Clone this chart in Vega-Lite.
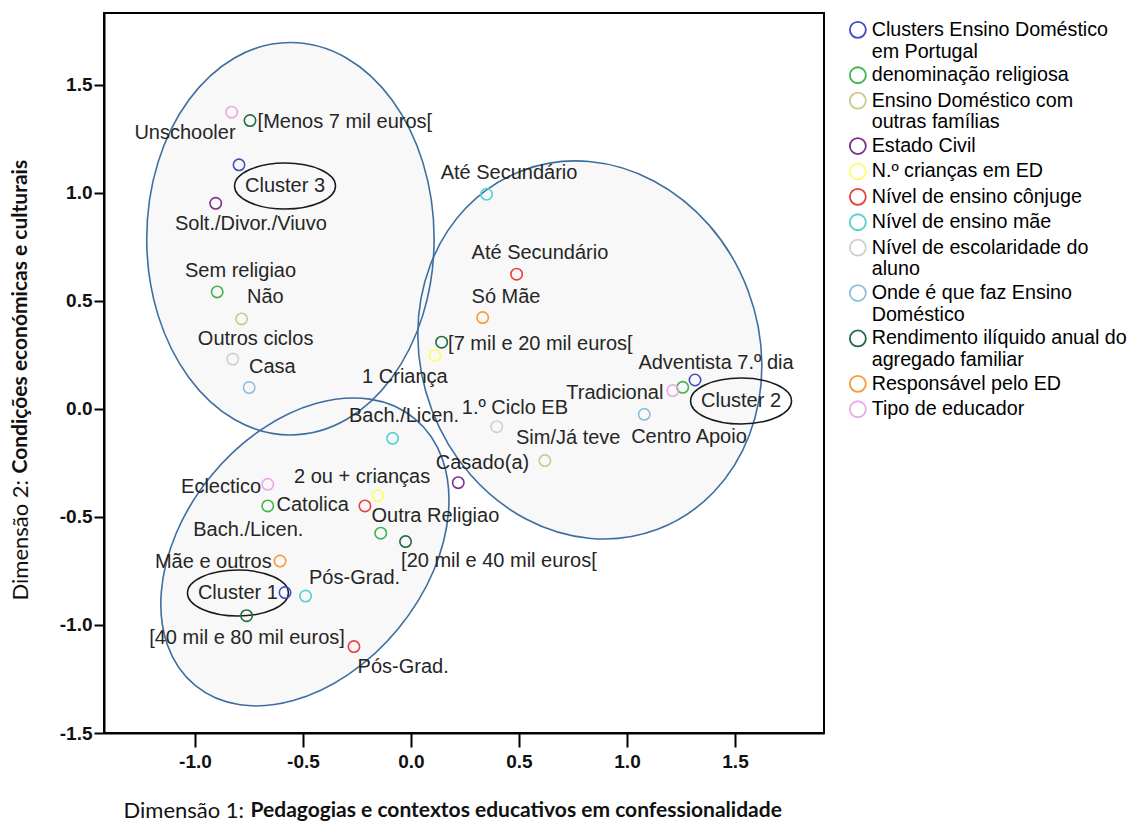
{
  "$schema": "https://vega.github.io/schema/vega-lite/v6.json",
  "width": 720,
  "height": 720,
  "autosize": {"type": "none"},
  "padding": {"left": 104, "top": 13, "right": 306, "bottom": 90},
  "background": "#ffffff",
  "config": {
    "view": {"stroke": "#000000", "strokeWidth": 2},
    "axis": {"grid": false, "domainColor": "#000000", "domainWidth": 2, "tickColor": "#000000", "tickWidth": 2, "labelFont": "Liberation Sans", "labelFontWeight": "bold", "labelFontSize": 19, "labelColor": "#111111", "titleFont": "Lato", "titleFontSize": 21, "titleColor": "#111111"}
  },
  "datasets": {
    "ell": [
      {"region": "Cluster 3", "cx": -0.558, "cy": 0.788},
      {"region": "Cluster 2", "cx": 0.828, "cy": 0.273},
      {"region": "Cluster 1", "cx": -0.491, "cy": -0.662}
    ],
    "pts": [
      {"cat": "Clusters Ensino Doméstico em Portugal", "label": "Cluster 3", "x": -0.796, "y": 1.130, "lx": -0.583, "ly": 1.032},
      {"cat": "Clusters Ensino Doméstico em Portugal", "label": "Cluster 2", "x": 1.315, "y": 0.134, "lx": 1.528, "ly": 0.037},
      {"cat": "Clusters Ensino Doméstico em Portugal", "label": "Cluster 1", "x": -0.583, "y": -0.850, "lx": -0.801, "ly": -0.852},
      {"cat": "denominação religiosa", "label": "Sem religiao", "x": -0.897, "y": 0.542, "lx": -0.789, "ly": 0.639},
      {"cat": "denominação religiosa", "label": "Adventista 7.º dia", "x": 1.258, "y": 0.100, "lx": 1.412, "ly": 0.212},
      {"cat": "denominação religiosa", "label": "Catolica", "x": -0.663, "y": -0.449, "lx": -0.455, "ly": -0.444},
      {"cat": "denominação religiosa", "label": "Outra Religiao", "x": -0.140, "y": -0.575, "lx": 0.113, "ly": -0.495},
      {"cat": "Ensino Doméstico com outras famílias", "label": "Não", "x": -0.784, "y": 0.417, "lx": -0.674, "ly": 0.520},
      {"cat": "Ensino Doméstico com outras famílias", "label": "Sim/Já teve", "x": 0.620, "y": -0.239, "lx": 0.728, "ly": -0.136},
      {"cat": "Estado Civil", "label": "Solt./Divor./Viuvo", "x": -0.904, "y": 0.952, "lx": -0.741, "ly": 0.855},
      {"cat": "Estado Civil", "label": "Casado(a)", "x": 0.219, "y": -0.341, "lx": 0.331, "ly": -0.249},
      {"cat": "N.º crianças em ED", "label": "1 Criança", "x": 0.111, "y": 0.247, "lx": -0.028, "ly": 0.150},
      {"cat": "N.º crianças em ED", "label": "2 ou + crianças", "x": -0.154, "y": -0.401, "lx": -0.226, "ly": -0.313},
      {"cat": "Nível de ensino cônjuge", "label": "Até Secundário", "x": 0.489, "y": 0.624, "lx": 0.597, "ly": 0.724},
      {"cat": "Nível de ensino cônjuge", "label": "Bach./Licen.", "x": -0.213, "y": -0.449, "lx": -0.753, "ly": -0.562},
      {"cat": "Nível de ensino cônjuge", "label": "Pós-Grad.", "x": -0.264, "y": -1.100, "lx": -0.036, "ly": -1.193},
      {"cat": "Nível de ensino mãe", "label": "Até Secundário", "x": 0.350, "y": 0.994, "lx": 0.454, "ly": 1.091},
      {"cat": "Nível de ensino mãe", "label": "Bach./Licen.", "x": -0.085, "y": -0.136, "lx": -0.032, "ly": -0.032},
      {"cat": "Nível de ensino mãe", "label": "Pós-Grad.", "x": -0.488, "y": -0.866, "lx": -0.261, "ly": -0.784},
      {"cat": "Nível de escolaridade do aluno", "label": "Outros ciclos", "x": -0.825, "y": 0.231, "lx": -0.719, "ly": 0.324},
      {"cat": "Nível de escolaridade do aluno", "label": "1.º Ciclo EB", "x": 0.397, "y": -0.082, "lx": 0.481, "ly": 0.006},
      {"cat": "Onde é que faz Ensino Doméstico", "label": "Casa", "x": -0.749, "y": 0.099, "lx": -0.642, "ly": 0.193},
      {"cat": "Onde é que faz Ensino Doméstico", "label": "Centro Apoio", "x": 1.080, "y": -0.025, "lx": 1.287, "ly": -0.128},
      {"cat": "Rendimento ilíquido anual do agregado familiar", "label": "[Menos 7 mil euros[", "x": -0.745, "y": 1.335, "lx": -0.306, "ly": 1.327},
      {"cat": "Rendimento ilíquido anual do agregado familiar", "label": "[7 mil e 20 mil euros[", "x": 0.142, "y": 0.309, "lx": 0.599, "ly": 0.301},
      {"cat": "Rendimento ilíquido anual do agregado familiar", "label": "[20 mil e 40 mil euros[", "x": -0.025, "y": -0.614, "lx": 0.407, "ly": -0.702},
      {"cat": "Rendimento ilíquido anual do agregado familiar", "label": "[40 mil e 80 mil euros]", "x": -0.761, "y": -0.957, "lx": -0.759, "ly": -1.062},
      {"cat": "Responsável pelo ED", "label": "Só Mãe", "x": 0.332, "y": 0.423, "lx": 0.440, "ly": 0.520},
      {"cat": "Responsável pelo ED", "label": "Mãe e outros", "x": -0.606, "y": -0.704, "lx": -0.915, "ly": -0.707},
      {"cat": "Tipo de educador", "label": "Unschooler", "x": -0.830, "y": 1.374, "lx": -1.046, "ly": 1.279},
      {"cat": "Tipo de educador", "label": "Tradicional", "x": 1.212, "y": 0.085, "lx": 0.944, "ly": 0.073},
      {"cat": "Tipo de educador", "label": "Eclectico", "x": -0.663, "y": -0.349, "lx": -0.879, "ly": -0.360}
    ]
  },
  "layer": [
    {
      "data": {"name": "ell"},
      "mark": {"type": "point", "filled": true, "color": "#f8f8f8", "opacity": 1, "size": 160000, "strokeWidth": 0, "clip": false},
      "encoding": {
        "x": {"field": "cx", "type": "quantitative", "scale": {"domain": [-1.421, 1.912], "nice": false, "zero": false},
          "axis": {"orient": "bottom", "labels": false, "ticks": false, "domain": false, "title": "Pedagogias e contextos educativos em confessionalidade", "titleFontWeight": "bold", "titleFontSize": 21, "titleX": 146, "titleY": 77, "titleAlign": "left", "titleBaseline": "middle"}},
        "y": {"field": "cy", "type": "quantitative", "scale": {"domain": [-1.5, 1.833], "nice": false, "zero": false},
          "axis": {"orient": "left", "labels": false, "ticks": false, "domain": false, "title": "Condições económicas e culturais", "titleFontWeight": "bold", "titleFontSize": 21, "titleX": -84, "titleY": 460, "titleAlign": "left", "titleBaseline": "middle", "titleAngle": -90}},
        "shape": {"field": "region", "type": "nominal", "legend": null,
          "scale": {"domain": ["Cluster 3", "Cluster 2", "Cluster 1"],
            "range": [
              "M0.7185,0 C0.7185,0.5418 0.3968,0.981 0,0.981 C-0.3968,0.981 -0.7185,0.5418 -0.7185,0 C-0.7185,-0.5418 -0.3968,-0.981 0,-0.981 C0.3968,-0.981 0.7185,-0.5418 0.7185,0 Z",
              "M0.3388,0.8966 C-0.0978,1.0616 -0.6033,0.7939 -0.7904,0.2987 C-0.9775,-0.1965 -0.7754,-0.7316 -0.3388,-0.8966 C0.0978,-1.0616 0.6033,-0.7939 0.7904,-0.2987 C0.9775,0.1965 0.7754,0.7316 0.3388,0.8966 Z",
              "M0.5489,-0.6673 C0.8065,-0.4554 0.7697,0.0152 0.4665,0.3837 C0.1633,0.7522 -0.2913,0.8792 -0.5489,0.6673 C-0.8065,0.4554 -0.7697,-0.0152 -0.4665,-0.3837 C-0.1633,-0.7522 0.2913,-0.8792 0.5489,-0.6673 Z"
            ]}}
      }
    },
    {
      "data": {"name": "ell"},
      "mark": {"type": "point", "filled": false, "color": "#3d6e9f", "opacity": 1, "size": 160000, "strokeWidth": 1.6, "clip": false},
      "encoding": {
        "x": {"field": "cx", "type": "quantitative", "scale": {"domain": [-1.421, 1.912], "nice": false, "zero": false}, "axis": null},
        "y": {"field": "cy", "type": "quantitative", "scale": {"domain": [-1.5, 1.833], "nice": false, "zero": false}, "axis": null},
        "shape": {"field": "region", "type": "nominal", "legend": null}
      }
    },
    {
      "data": {"name": "pts"},
      "transform": [{"filter": "datum.cat == 'Clusters Ensino Doméstico em Portugal'"}],
      "mark": {"type": "point", "filled": false, "color": "#1a1a1a", "opacity": 1, "size": 160000, "strokeWidth": 1.5,
        "shape": "M0.2525,0 C0.2525,0.0635 0.1395,0.115 0,0.115 C-0.1395,0.115 -0.2525,0.0635 -0.2525,0 C-0.2525,-0.0635 -0.1395,-0.115 0,-0.115 C0.1395,-0.115 0.2525,-0.0635 0.2525,0 Z"},
      "encoding": {
        "x": {"field": "lx", "type": "quantitative", "scale": {"domain": [-1.421, 1.912], "nice": false, "zero": false}, "axis": null},
        "y": {"field": "ly", "type": "quantitative", "scale": {"domain": [-1.5, 1.833], "nice": false, "zero": false}, "axis": null}
      }
    },
    {
      "data": {"name": "pts"},
      "mark": {"type": "point", "filled": false, "opacity": 1, "size": 130, "strokeWidth": 1.6, "shape": "circle"},
      "encoding": {
        "x": {"field": "x", "type": "quantitative", "scale": {"domain": [-1.421, 1.912], "nice": false, "zero": false},
          "axis": {"orient": "bottom", "values": [-1, -0.5, 0, 0.5, 1, 1.5], "labelExpr": "(datum.value < 0 ? '-' : '') + format(abs(datum.value), '.1f')", "tickSize": 14, "labelPadding": 5, "labelFlush": false, "title": "Dimensão 1:", "titleFontWeight": "normal", "titleFontSize": 22, "titleX": 19, "titleY": 77, "titleAlign": "left", "titleBaseline": "middle"}},
        "y": {"field": "y", "type": "quantitative", "scale": {"domain": [-1.5, 1.833], "nice": false, "zero": false},
          "axis": {"orient": "left", "values": [-1.5, -1, -0.5, 0, 0.5, 1, 1.5], "labelExpr": "(datum.value < 0 ? '-' : '') + format(abs(datum.value), '.1f')", "tickSize": 10, "labelPadding": 2, "labelFlush": false, "title": "Dimensão 2:", "titleFontWeight": "normal", "titleFontSize": 22, "titleX": -84, "titleY": 587, "titleAlign": "left", "titleBaseline": "middle", "titleAngle": -90}},
        "color": {"field": "cat", "type": "nominal",
          "scale": {
            "domain": ["Clusters Ensino Doméstico em Portugal", "denominação religiosa", "Ensino Doméstico com outras famílias", "Estado Civil", "N.º crianças em ED", "Nível de ensino cônjuge", "Nível de ensino mãe", "Nível de escolaridade do aluno", "Onde é que faz Ensino Doméstico", "Rendimento ilíquido anual do agregado familiar", "Responsável pelo ED", "Tipo de educador"],
            "range": ["#3f4fbf", "#3fb54c", "#c9c98f", "#7d2f8e", "#fdfd6a", "#e8403f", "#4fd2d0", "#cfcfcf", "#8ebfdc", "#1e6b45", "#f99a35", "#e7abe8"]
          },
          "legend": {"orient": "none", "legendX": 744, "legendY": 7, "title": null, "labelFont": "Liberation Sans", "labelFontSize": 19.7, "labelColor": "#000000", "symbolSize": 256, "symbolStrokeWidth": 1.8, "symbolType": "circle", "rowPadding": 1.4, "labelOffset": 4, "labelLimit": 400, "padding": 0,
            "labelExpr": "datum.label == 'Clusters Ensino Doméstico em Portugal' ? ['Clusters Ensino Doméstico', 'em Portugal'] : datum.label == 'Ensino Doméstico com outras famílias' ? ['Ensino Doméstico com', 'outras famílias'] : datum.label == 'Nível de escolaridade do aluno' ? ['Nível de escolaridade do', 'aluno'] : datum.label == 'Onde é que faz Ensino Doméstico' ? ['Onde é que faz Ensino', 'Doméstico'] : datum.label == 'Rendimento ilíquido anual do agregado familiar' ? ['Rendimento ilíquido anual do', 'agregado familiar'] : datum.label"}
        }
      }
    },
    {
      "data": {"name": "pts"},
      "mark": {"type": "text", "font": "Liberation Sans", "fontSize": 20, "color": "#262626", "align": "center", "baseline": "middle"},
      "encoding": {
        "x": {"field": "lx", "type": "quantitative", "scale": {"domain": [-1.421, 1.912], "nice": false, "zero": false}, "axis": null},
        "y": {"field": "ly", "type": "quantitative", "scale": {"domain": [-1.5, 1.833], "nice": false, "zero": false}, "axis": null},
        "text": {"field": "label", "type": "nominal"}
      }
    }
  ],
  "resolve": {"axis": {"x": "independent", "y": "independent"}}
}
